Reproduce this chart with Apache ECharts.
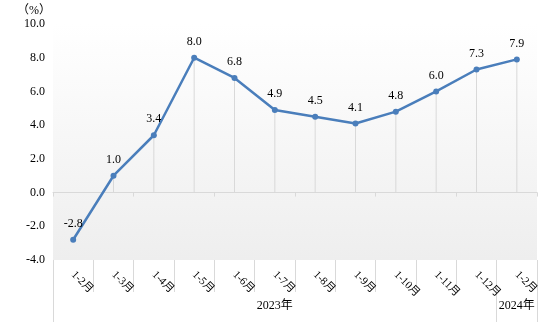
<!DOCTYPE html>
<html>
<head>
<meta charset="utf-8">
<script src="https://cdn.jsdelivr.net/npm/echarts@6/dist/echarts.min.js"></script>
<style>
  html, body { margin: 0; padding: 0; background: #fff; }
  #chart { width: 554px; height: 326px; }
</style>
</head>
<body>
<div id="chart"></div>
<script>
// Cumulative growth rate by reporting period (%)
const categories = ['1-2月', '1-3月', '1-4月', '1-5月', '1-6月', '1-7月', '1-8月', '1-9月', '1-10月', '1-11月', '1-12月', '1-2月'];
const growth = [-2.8, 1.0, 3.4, 8.0, 6.8, 4.9, 4.5, 4.1, 4.8, 6.0, 7.3, 7.9];
// Year groups: label, first category index, last category index (exclusive)
const yearNames = ['2023年', '2024年'];
const yearStarts = [0, 11];
const yearEnds = [11, 12];
const yTicks = { min: -4, max: 10, step: 2 };

const serif = '"Liberation Serif", "Times New Roman", serif';
const cjk = '"Liberation Serif", "Noto Sans CJK SC", serif';
const gridLine = '#d9d9d9';

const yearMids = yearNames.map((_, i) => (yearStarts[i] + yearEnds[i]) / 2);
const yearEdges = Array.from(new Set(yearStarts.concat(yearEnds)));

const chart = echarts.init(document.getElementById('chart'), null, { renderer: 'canvas' });
chart.setOption({
  animation: false,
  grid: {
    left: 53, right: 17, top: 24, bottom: 66,
    show: true,
    borderWidth: 0,
    backgroundColor: new echarts.graphic.LinearGradient(0, 0, 0, 1, [
      { offset: 0, color: '#ffffff' },
      { offset: 1, color: '#eeeeee' }
    ])
  },
  graphic: [{
    type: 'text', left: 17, top: 5,
    style: { text: '（%）', font: '12px ' + cjk, fill: '#000' }
  }],
  xAxis: [
    { // zero line with short boundary ticks
      type: 'category', data: categories, boundaryGap: true,
      axisLine: { onZero: true, lineStyle: { color: gridLine, width: 1 } },
      axisTick: { show: true, length: 4, lineStyle: { color: gridLine } },
      axisLabel: { show: false },
      splitLine: { show: false }
    },
    { // period labels at the bottom
      type: 'category', data: categories, boundaryGap: true, position: 'bottom',
      axisLine: { show: false, onZero: false },
      axisTick: { show: true, length: 32, lineStyle: { color: gridLine } },
      axisLabel: {
        rotate: -45, margin: 13, interval: 0,
        fontSize: 11, fontFamily: cjk, color: '#000'
      },
      splitLine: { show: false }
    },
    { // year grouping level
      type: 'value', min: 0, max: categories.length, position: 'bottom',
      axisLine: { show: false, onZero: false },
      axisTick: { show: true, length: 62, customValues: yearEdges, lineStyle: { color: gridLine } },
      axisLabel: {
        customValues: yearMids, margin: 40,
        fontSize: 12, fontFamily: cjk, color: '#000',
        formatter: v => yearNames[yearMids.indexOf(v)] || ''
      },
      splitLine: { show: false }
    }
  ],
  yAxis: {
    type: 'value', min: yTicks.min, max: yTicks.max, interval: yTicks.step,
    axisLine: { show: false },
    axisTick: { show: false },
    splitLine: { show: false },
    axisLabel: {
      margin: 8, fontSize: 12, fontFamily: serif, color: '#000',
      formatter: v => v.toFixed(1)
    }
  },
  series: [
    { // drop lines from each point above zero down to the zero line
      type: 'bar', xAxisIndex: 0, data: growth.map(v => (v >= 0 ? v : '-')), barWidth: 1,
      itemStyle: { color: gridLine }, silent: true, z: 1
    },
    {
      type: 'line', xAxisIndex: 0, data: growth,
      symbol: 'circle', symbolSize: 6,
      lineStyle: { color: '#4a7ebb', width: 2.5 },
      itemStyle: { color: '#4a7ebb' },
      label: {
        show: true, position: 'top', distance: 7,
        fontSize: 12, fontFamily: serif, color: '#000',
        formatter: p => p.value.toFixed(1)
      },
      z: 3
    }
  ]
});
</script>
</body>
</html>
